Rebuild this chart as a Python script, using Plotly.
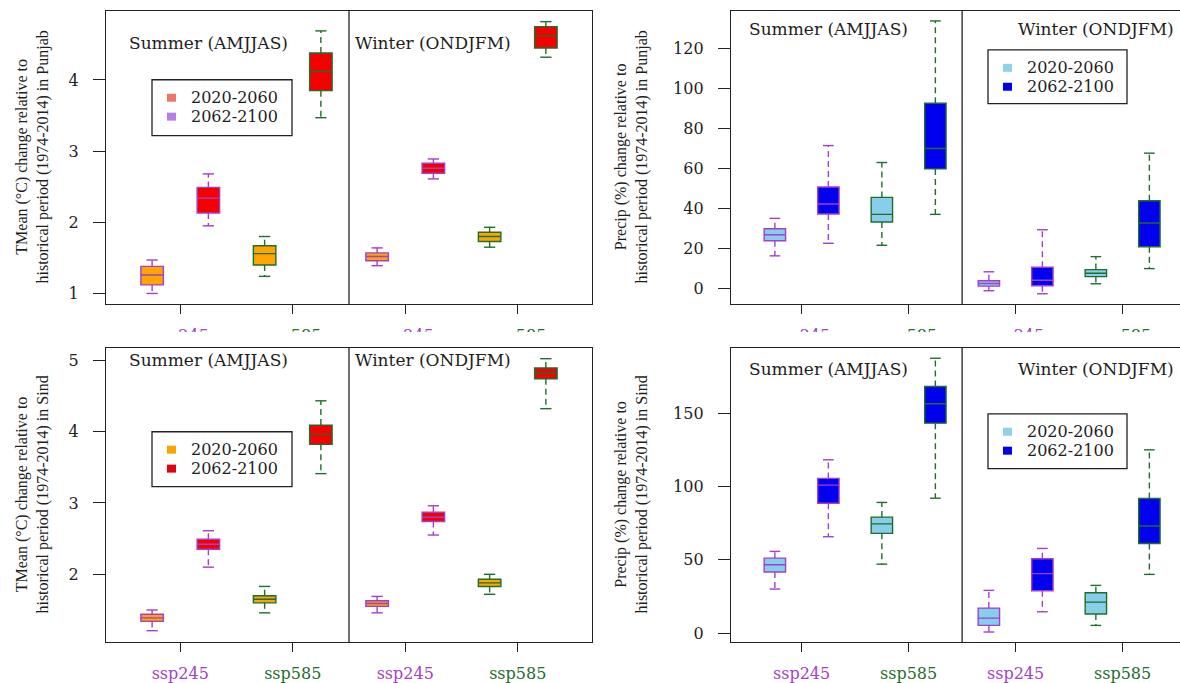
import plotly.graph_objects as go

W, H = 1180, 683

# ---------------- data ----------------
positions = [1, 2, 3, 4, 5, 6, 7, 8]
periods = ["2020-2060", "2062-2100", "2020-2060", "2062-2100",
           "2020-2060", "2062-2100", "2020-2060", "2062-2100"]
scenarios = ["ssp245", "ssp245", "ssp585", "ssp585",
             "ssp245", "ssp245", "ssp585", "ssp585"]
tick_positions = [1.5, 3.5, 5.5, 7.5]
tick_labels = ["ssp245", "ssp585", "ssp245", "ssp585"]
season_labels = ["Summer (AMJJAS)", "Winter (ONDJFM)"]
legend_labels = ["2020-2060", "2062-2100"]

# Punjab mean temperature change (°C)
pt_upper = [1.47, 2.68, 1.80, 4.69, 1.64, 2.89, 1.93, 4.82]
pt_q3 = [1.38, 2.49, 1.67, 4.38, 1.57, 2.83, 1.86, 4.75]
pt_med = [1.26, 2.34, 1.56, 4.12, 1.52, 2.76, 1.80, 4.62]
pt_q1 = [1.12, 2.13, 1.40, 3.85, 1.46, 2.69, 1.73, 4.45]
pt_lower = [1.00, 1.95, 1.24, 3.47, 1.39, 2.61, 1.65, 4.32]

# Punjab precipitation change (%)
pp_upper = [35, 71.5, 63, 134, 8.2, 29.3, 15.8, 67.7]
pp_q3 = [29.8, 50.7, 45.5, 92.7, 3.7, 10.5, 9.3, 43.8]
pp_med = [26.8, 42.2, 37, 70, 2.3, 4.0, 7.5, 32.7]
pp_q1 = [23.8, 37.2, 33.2, 59.8, 1.0, 1.2, 5.8, 20.8]
pp_lower = [16.2, 22.5, 21.5, 37, -1.3, -2.8, 2.2, 9.8]

# Sind mean temperature change (°C)
st_upper = [1.50, 2.61, 1.83, 4.43, 1.69, 2.96, 2.00, 5.02]
st_q3 = [1.44, 2.49, 1.70, 4.09, 1.63, 2.87, 1.93, 4.89]
st_med = [1.39, 2.42, 1.65, 3.96, 1.59, 2.80, 1.88, 4.82]
st_q1 = [1.34, 2.35, 1.60, 3.82, 1.55, 2.74, 1.83, 4.74]
st_lower = [1.21, 2.10, 1.46, 3.41, 1.46, 2.55, 1.72, 4.32]

# Sind precipitation change (%)
sp_upper = [55.7, 118.2, 89.1, 187.5, 29.1, 57.7, 32.5, 125]
sp_q3 = [51.1, 105.5, 79.1, 168.2, 17, 50.7, 27.5, 91.8]
sp_med = [46.6, 100.9, 74.5, 156.4, 10.2, 40.5, 21.1, 73]
sp_q1 = [41.6, 88.6, 68, 143.2, 5.2, 28.9, 13, 61.1]
sp_lower = [30, 65.7, 47, 92, 0.7, 14.5, 5.2, 40]

# ---------------- styles ----------------
SERIF_WIDE = "DejaVu Serif"
SERIF_TIMES = "Liberation Serif"
TXT = "#1e1e1e"
PURPLE = "#A23FCB"
GREEN = "#1F6E2C"
scen_color = {"ssp245": PURPLE, "ssp585": GREEN}
temp_fill = {"2020-2060": "#FFA500", "2062-2100": "#F40000"}
prec_fill = {"2020-2060": "#87CEEB", "2062-2100": "#0000EE"}


def px(x):
    return x / W


def py(y):
    return 1 - y / H


panels = [
    dict(ax="", lower=pt_lower, q1=pt_q1, med=pt_med, q3=pt_q3, upper=pt_upper,
         fill=temp_fill, xr=[0.18, 8.82], yr=[0.85, 4.97],
         xdom=[px(106), px(592)], ydom=[py(305), py(11)], ticks=[1, 2, 3, 4],
         mirror_y=True, season_xy=[(2, 4.52), (6, 4.52)],
         title="TMean (°C) change relative to<br>historical period (1974-2014) in Punjab",
         title_xy=(33, 158), legend_box=(152, 80, 292, 136),
         legend_colors=["#EC786C", "#B67EE6"]),
    dict(ax="2", lower=pp_lower, q1=pp_q1, med=pp_med, q3=pp_q3, upper=pp_upper,
         fill=prec_fill, xr=[0.18, 0.18 + 449 / 53.5], yr=[-8, 139],
         xdom=[px(731), 1.0], ydom=[py(305), py(11)], ticks=[0, 20, 40, 60, 80, 100, 120],
         mirror_y=False, season_xy=[(2, 130), (7, 130)],
         title="Precip (%) change relative to<br>historical period (1974-2014) in Punjab",
         title_xy=(632, 158), legend_box=(988, 50, 1127, 104),
         legend_colors=["#8DD2EA", "#0000E6"]),
    dict(ax="3", lower=st_lower, q1=st_q1, med=st_med, q3=st_q3, upper=st_upper,
         fill=temp_fill, xr=[0.18, 8.82], yr=[1.05, 5.17],
         xdom=[px(106), px(592)], ydom=[py(644), py(349)], ticks=[2, 3, 4, 5],
         mirror_y=True, season_xy=[(2, 5.0), (6, 5.0)],
         title="TMean (°C) change relative to<br>historical period (1974-2014) in Sind",
         title_xy=(33, 496), legend_box=(152, 433, 292, 488),
         legend_colors=["#F7A400", "#E4000E"]),
    dict(ax="4", lower=sp_lower, q1=sp_q1, med=sp_med, q3=sp_q3, upper=sp_upper,
         fill=prec_fill, xr=[0.18, 0.18 + 449 / 53.5], yr=[-6.2, 194.5],
         xdom=[px(731), 1.0], ydom=[py(644), py(349)], ticks=[0, 50, 100, 150],
         mirror_y=False, season_xy=[(2, 180), (7, 180)],
         title="Precip (%) change relative to<br>historical period (1974-2014) in Sind",
         title_xy=(632, 496), legend_box=(988, 415, 1127, 470),
         legend_colors=["#8DD2EA", "#0000E6"]),
]

fig = go.Figure()
shapes = []
annotations = []

for p in panels:
    xa = "x" + p["ax"]
    ya = "y" + p["ax"]
    # dashed whiskers and solid staples, coloured by scenario
    for scen in ["ssp245", "ssp585"]:
        wx, wy, sx, sy = [], [], [], []
        for i, pos in enumerate(positions):
            if scenarios[i] != scen:
                continue
            wx += [pos, pos, None, pos, pos, None]
            wy += [p["q3"][i], p["upper"][i], None, p["q1"][i], p["lower"][i], None]
            sx += [pos - 0.1, pos + 0.1, None, pos - 0.1, pos + 0.1, None]
            sy += [p["upper"][i], p["upper"][i], None, p["lower"][i], p["lower"][i], None]
        fig.add_trace(go.Scatter(x=wx, y=wy, mode="lines", xaxis=xa, yaxis=ya,
                                 line=dict(color=scen_color[scen], width=1.4, dash="6px,4px"),
                                 showlegend=False, hoverinfo="skip"))
        fig.add_trace(go.Scatter(x=sx, y=sy, mode="lines", xaxis=xa, yaxis=ya,
                                 line=dict(color=scen_color[scen], width=1.4),
                                 showlegend=False, hoverinfo="skip"))
    # boxes
    for i, pos in enumerate(positions):
        fig.add_trace(go.Box(
            x=[pos], q1=[p["q1"][i]], median=[p["med"][i]], q3=[p["q3"][i]],
            lowerfence=[p["q1"][i]], upperfence=[p["q3"][i]],
            width=0.4, whiskerwidth=0, boxpoints=False,
            fillcolor=p["fill"][periods[i]],
            line=dict(color=scen_color[scenarios[i]], width=1.4),
            xaxis=xa, yaxis=ya, showlegend=False, hoverinfo="skip"))

    tt = ["<span style='color:%s'>%s</span>" % (scen_color[t], t) for t in tick_labels]
    xkey = "xaxis" + p["ax"]
    ykey = "yaxis" + p["ax"]
    fig.update_layout({
        xkey: dict(domain=p["xdom"], range=p["xr"], anchor=ya,
                   tickmode="array", tickvals=tick_positions, ticktext=tt,
                   ticks="outside", ticklen=9, tickwidth=1.3, tickcolor="#222",
                   showline=True, mirror=True, linecolor="#222", linewidth=1.3,
                   showgrid=False, zeroline=False, ticklabelstandoff=8,
                   tickfont=dict(family=SERIF_WIDE, size=16)),
        ykey: dict(domain=p["ydom"], range=p["yr"], anchor=xa,
                   tickmode="array", tickvals=p["ticks"],
                   ticks="outside", ticklen=12, tickwidth=1.3, tickcolor="#222",
                   showline=True, mirror=p["mirror_y"], linecolor="#222", linewidth=1.3,
                   showgrid=False, zeroline=False, ticklabelstandoff=11,
                   tickfont=dict(family=SERIF_WIDE, size=16, color=TXT)),
    })

    # divider between the two seasons
    shapes.append(dict(type="line", xref=xa, yref=ya + " domain", x0=4.5, x1=4.5,
                       y0=0, y1=1, line=dict(color="#222", width=1.3)))

    for (sxp, syp), lab in zip(p["season_xy"], season_labels):
        annotations.append(dict(x=sxp, y=syp, xref=xa, yref=ya, text=lab,
                                showarrow=False, xanchor="center", yanchor="middle",
                                font=dict(family=SERIF_WIDE, size=17, color=TXT)))

    tx, ty = p["title_xy"]
    annotations.append(dict(x=px(tx), y=py(ty), xref="paper", yref="paper",
                            text=p["title"], textangle=-90, showarrow=False,
                            xanchor="center", yanchor="middle",
                            font=dict(family=SERIF_TIMES, size=16, color=TXT)))

    # legend
    x0, y0, x1, y1 = p["legend_box"]
    shapes.append(dict(type="rect", xref="paper", yref="paper",
                       x0=px(x0), x1=px(x1), y0=py(y1), y1=py(y0),
                       line=dict(color="#222", width=1.3), fillcolor="white",
                       layer="above"))
    row_y = [y0 + 18, y0 + 37]
    for ry, col, lab in zip(row_y, p["legend_colors"], legend_labels):
        shapes.append(dict(type="rect", xref="paper", yref="paper",
                           x0=px(x0 + 15), x1=px(x0 + 24), y0=py(ry + 4), y1=py(ry - 4),
                           line=dict(width=0), fillcolor=col, layer="above"))
        annotations.append(dict(x=px(x0 + 37), y=py(ry), xref="paper", yref="paper",
                                text=lab, showarrow=False, xanchor="left",
                                yanchor="middle",
                                font=dict(family=SERIF_WIDE, size=16, color=TXT)))

# white band hiding the lower part of the top row's category labels
shapes.append(dict(type="rect", xref="paper", yref="paper",
                   x0=0, x1=1, y0=py(347), y1=py(333),
                   line=dict(width=0), fillcolor="white", layer="above"))

fig.update_layout(
    width=W, height=H, margin=dict(l=0, r=0, t=0, b=0),
    paper_bgcolor="white", plot_bgcolor="white",
    showlegend=False, shapes=shapes, annotations=annotations,
    font=dict(family=SERIF_WIDE, color=TXT),
)

fig.write_html("out.html")
